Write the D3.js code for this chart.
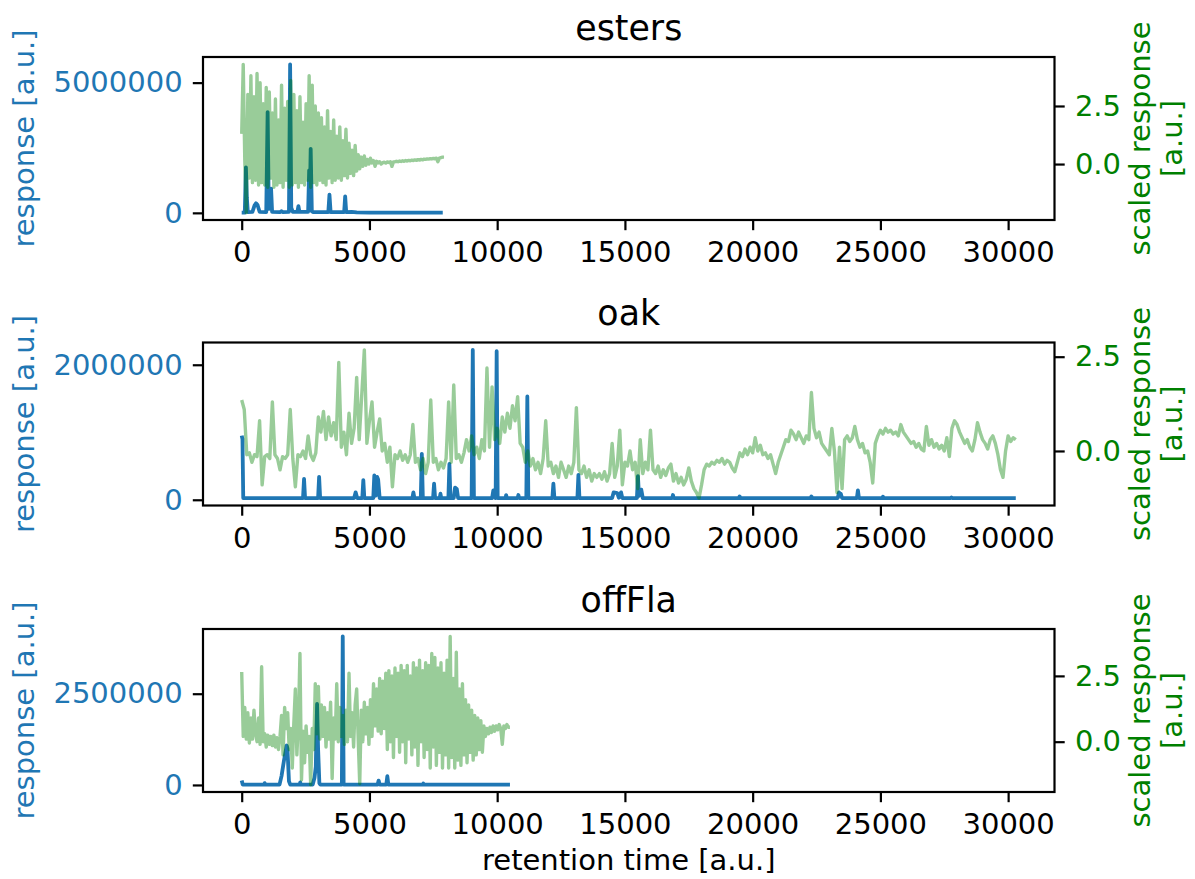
<!DOCTYPE html>
<html><head><meta charset="utf-8">
<script src="https://cdn.jsdelivr.net/npm/d3@7"></script>
<style>
html,body{margin:0;padding:0;background:#fff;}
svg{display:block;}
</style></head><body>
<svg id="chart" width="1195" height="879"></svg>
<script>
// ---------------- data ----------------
const panelTitles = ["esters", "oak", "offFla"];
const timeTicks = [0, 5000, 10000, 15000, 20000, 25000, 30000];
const scaledTicks = [0.0, 2.5];
const estersResponseTicks = [0, 5000000];
const oakResponseTicks = [0, 2000000];
const offFlaResponseTicks = [0, 2500000];

// raw response: [retention time, response]
const estersResponse = [[0,10000],[120,10000],[165,1750000],[200,600000],[240,30000],[420,40000],[500,280000],[560,370000],[620,300000],[700,40000],[960,30000],[1015,3870000],[1060,150000],[1110,200000],[1150,930000],[1190,40000],[1500,30000],[1560,60000],[1600,30000],[1850,40000],[1895,5700000],[1940,200000],[2000,40000],[2180,40000],[2220,260000],[2260,40000],[2600,40000],[2640,1630000],[2670,700000],[2700,2460000],[2745,60000],[2800,30000],[3390,30000],[3435,700000],[3480,30000],[4010,30000],[4050,630000],[4090,30000],[4300,40000],[4500,20000],[5000,10000],[7870,10000]];

const oakResponse = [[0,950000],[30,900000],[60,25000],[2400,25000],[2440,310000],[2480,25000],[2990,25000],[3030,340000],[3070,25000],[4400,25000],[4460,110000],[4520,25000],[4720,25000],[4760,290000],[4800,25000],[5150,25000],[5190,360000],[5250,60000],[5300,340000],[5340,300000],[5400,25000],[6680,25000],[6720,110000],[6760,25000],[7010,25000],[7050,680000],[7090,25000],[7490,25000],[7530,240000],[7570,25000],[7750,25000],[7780,90000],[7810,25000],[8090,25000],[8130,530000],[8170,25000],[8300,25000],[8350,180000],[8420,160000],[8470,25000],[9000,25000],[9045,2220000],[9090,25000],[9800,25000],[9850,140000],[9900,120000],[9940,25000],[9980,2200000],[10020,25000],[10330,25000],[10350,70000],[10380,25000],[10800,25000],[10830,70000],[10860,25000],[11140,25000],[11180,1530000],[11220,25000],[12160,25000],[12200,240000],[12240,25000],[13140,25000],[13180,370000],[13220,25000],[14500,25000],[14560,110000],[14700,100000],[14760,30000],[14850,110000],[14900,25000],[15470,25000],[15510,350000],[15550,60000],[15640,150000],[15700,25000],[16850,25000],[16880,70000],[16910,25000],[19460,25000],[19490,50000],[19520,25000],[22270,25000],[22300,50000],[22330,25000],[23330,25000],[23380,110000],[23420,60000],[23450,90000],[23500,25000],[24080,25000],[24120,140000],[24160,25000],[25070,25000],[25100,45000],[25130,25000],[27750,25000],[27780,35000],[27810,25000],[30300,25000]];

const offFlaResponse = [[0,120000],[40,10000],[880,10000],[900,50000],[920,10000],[1480,10000],[1560,250000],[1650,650000],[1760,1080000],[1790,1000000],[1850,100000],[1900,10000],[2270,10000],[2290,70000],[2310,10000],[2780,10000],[2850,200000],[2900,500000],[2950,2220000],[2990,1000000],[3040,50000],[3080,10000],[3920,10000],[3955,4070000],[3990,10000],[5320,10000],[5360,120000],[5400,10000],[5660,10000],[5700,240000],[5740,10000],[7090,10000],[7110,40000],[7130,10000],[10500,10000]];

// scaled response, sampled every *Step retention-time units starting at 0
const estersScaledStep = 60;
const estersScaled = [1.3,4.29,0.2,-2.09,3.0,-0.6,3.8,-0.8,2.9,-0.7,3.9,-0.9,3.5,-0.8,2.6,-0.9,3.3,-1.0,3.1,-0.6,2.2,-1.0,2.8,-0.9,1.9,-0.8,3.4,-1.0,2.4,-0.7,2.7,-1.0,3.6,-0.9,3.0,-0.8,2.3,-1.0,2.9,-0.8,1.8,-0.9,2.6,-0.7,3.8,-1.0,3.4,-0.8,2.5,-0.9,2.2,-0.7,2.0,-0.8,1.6,-0.9,2.3,-0.6,1.4,-0.8,1.9,-0.7,1.2,-0.6,1.6,-0.7,1.0,-0.5,1.5,-0.6,0.9,-0.4,0.6,-0.5,0.8,-0.3,0.4,-0.2,0.3,-0.1,0.35,-0.05,0.2,0.0,0.25,0.05,0.15,-0.1,0.12,0.05,0.1,0.0,0.06,0.08,0.04,0.09,0.07,0.1,-0.1,0.09,0.1,0.12,0.1,0.13,0.11,0.14,0.12,0.15,0.13,0.16,0.14,0.17,0.15,0.18,0.16,0.19,0.17,0.2,0.18,0.21,0.2,0.22,0.21,0.23,0.22,0.24,0.23,0.25,0.1,0.26,0.28,0.3,0.3];

const oakScaledStep = 100;
const oakScaled = [1.35,1.1,-0.1,-0.05,-0.3,-0.1,-0.15,0.8,-0.9,-0.15,-0.1,-0.2,1.3,
-0.1,-0.2,-0.5,-0.15,-0.2,-0.1,1.1,-0.2,-0.95,-0.1,-0.15,0.0,-0.2,0.4,-0.1,-0.25,-0.05,
0.9,0.5,1.05,0.3,0.9,0.4,0.75,0.3,2.35,0.1,0.5,-0.1,1.0,0.2,0.6,1.95,0.3,1.5,2.68,0.2,0.8,1.3,0.1,0.5,0.85,0.0,0.2,-0.3,0.1,-0.95,
-0.1,-0.2,0.0,-0.25,-0.1,-0.3,-0.1,0.7,-0.3,-0.2,-0.5,-0.2,-0.6,-0.3,1.35,-0.3,-0.2,-0.5,-0.3,-0.45,-0.2,1.3,-0.3,1.75,-0.2,-0.1,-0.3,-0.05,0.3,0.0,
0.4,-0.1,0.1,-0.2,0.3,0.0,2.2,0.1,1.7,0.3,0.6,0.2,0.9,0.5,1.0,0.6,1.2,0.8,1.44,0.2,0.1,-0.3,0.0,-0.4,-0.2,-0.5,-0.3,-0.6,-0.2,0.8,
-0.4,-0.3,-0.6,-0.4,-0.7,-0.3,-0.5,-0.7,-0.4,-0.6,-0.3,1.15,-0.5,-0.6,-0.4,-0.7,-0.5,-0.8,-0.6,-0.7,
-0.6,-0.75,-0.55,-0.8,-0.6,0.2,-0.7,-0.4,0.55,-0.9,-0.3,-0.4,0.0,-0.5,-0.3,-1.0,0.3,-0.6,-0.3,-0.5,0.55,-0.5,-0.6,-0.4,-0.7,-0.5,-0.65,-0.45,-0.35,-0.8,-0.6,-0.85,-0.7,-0.9,-0.75,-0.45,-0.8,-1.0,-1.1,-1.25,
-0.9,-0.5,-0.35,-0.4,-0.3,-0.35,-0.25,-0.3,-0.2,-0.35,-0.25,-0.3,-0.45,-0.55,-0.3,-0.05,-0.15,0.05,-0.1,0.1,-0.05,0.35,0.0,0.15,-0.1,-0.05,-0.2,-0.1,-0.35,-0.6,-0.3,-0.1,0.1,0.3,0.25,0.55,0.45,0.3,0.5,0.35,
0.2,0.4,0.3,1.55,0.6,0.35,0.5,0.2,0.1,0.0,-0.1,0.6,0.0,-1.1,0.1,-1.0,0.3,0.4,0.25,0.35,0.65,0.3,0.1,0.2,-0.05,0.0,-0.3,-0.85,0.2,0.4,0.55,0.45,0.6,0.5,0.55,0.45,0.5,0.4,0.7,0.5,
0.4,0.3,0.2,0.25,0.1,0.2,0.05,0.0,0.65,0.15,0.3,0.1,0.2,0.05,0.15,0.0,0.35,-0.15,0.6,0.8,0.7,0.5,0.35,0.2,0.3,0.1,0.0,0.3,0.75,0.5,0.3,0.2,0.05,0.3,0.4,0.2,-0.1,-0.5,-0.7,0.0,0.4,0.25,0.35,0.3];

const offFlaScaledStep = 60;
const offFlaScaled = [2.65,0.2,1.3,0.1,1.1,-0.05,0.9,0.1,1.2,0.3,0.0,0.9,-0.1,2.85,0.0,0.3,-0.2,0.25,-0.1,0.2,-0.15,0.25,-0.2,0.15,-0.3,0.2,1.0,-0.5,1.3,0.5,
1.1,-0.3,0.5,-1.0,0.7,2.0,-0.5,0.8,3.35,-1.45,0.4,-0.8,0.6,-0.4,0.2,-1.63,0.5,-0.3,2.2,0.3,2.1,0.1,1.4,0.2,1.3,-0.2,1.1,0.1,1.5,-1.4,
0.9,0.1,2.2,0.0,1.3,0.2,1.0,-0.1,1.2,0.0,2.6,0.2,1.1,-0.2,1.4,2.0,0.1,-1.6,1.2,0.0,1.5,0.3,1.3,-0.1,1.6,0.2,2.2,0.6,2.0,0.4,
2.4,0.3,2.3,0.5,2.6,-0.3,2.7,0.0,2.5,-0.6,2.8,0.2,2.6,-0.4,2.9,0.0,2.7,-0.8,2.9,0.1,2.5,-0.5,3.0,-0.2,2.8,-0.9,3.1,0.0,2.7,-0.6,
3.0,-0.3,2.9,-1.0,3.35,-0.2,3.2,-0.9,2.8,-0.4,3.0,-1.0,2.6,-0.5,3.1,-1.0,4.0,-0.6,2.4,-1.0,3.4,-0.7,2.0,-0.9,2.2,-0.5,1.6,-0.8,1.4,-0.4,
1.2,-0.7,1.0,-0.5,0.9,-0.3,0.8,-0.4,0.6,0.2,0.5,0.3,0.55,0.35,0.6,0.4,0.6,0.45,0.65,0.5,-0.1,0.6,0.5,0.65,0.55,0.55];

// ---------------- drawing ----------------
const svg = d3.select("#chart");
const FONT = "'DejaVu Sans', 'Liberation Sans', sans-serif";
const FS = 29, TFS = 34.8;
const BLUE = "#1f77b4", GREEN = "#008000";
const axL = 203, axR = 1054.5, axH = 163;
const tops = [57, 342.5, 629];
const TICK = 10.2, PAD = 10.2;

const panels = [
  {title: panelTitles[0], resp: estersResponse, scaled: estersScaled, step: estersScaledStep, ticks: estersResponseTicks},
  {title: panelTitles[1], resp: oakResponse, scaled: oakScaled, step: oakScaledStep, ticks: oakResponseTicks},
  {title: panelTitles[2], resp: offFlaResponse, scaled: offFlaScaled, step: offFlaScaledStep, ticks: offFlaResponseTicks}
];

const padDom = (a, b) => [a - (b - a) * 0.05, b + (b - a) * 0.05];
const tMax = d3.max(panels, p => Math.max(p.resp[p.resp.length-1][0], (p.scaled.length-1)*p.step));
const x = d3.scaleLinear().domain(padDom(0, tMax)).range([axL, axR]);

function styleAxis(g, color) {
  g.attr("font-family", FONT).attr("font-size", FS);
  g.select(".domain").remove();
  g.selectAll(".tick line").attr("stroke", "#000").attr("stroke-width", 2.2);
  g.selectAll(".tick text").attr("fill", color);
}

panels.forEach((p, i) => {
  const top = tops[i], bot = top + axH;
  const g = svg.append("g");
  const yL = d3.scaleLinear().domain(padDom(d3.min(p.resp, d => d[1]), d3.max(p.resp, d => d[1]))).range([bot, top]);
  const yR = d3.scaleLinear().domain(padDom(d3.min(p.scaled), d3.max(p.scaled))).range([bot, top]);
  const scaledPts = p.scaled.map((v, k) => [k * p.step, v]);

  const cid = "clip" + i;
  svg.append("clipPath").attr("id", cid).append("rect")
    .attr("x", axL).attr("y", top).attr("width", axR - axL).attr("height", axH);

  g.append("path").datum(p.resp)
    .attr("d", d3.line().x(d => x(d[0])).y(d => yL(d[1])))
    .attr("fill", "none").attr("stroke", BLUE).attr("stroke-width", 3.8)
    .attr("stroke-linejoin", "round").attr("clip-path", `url(#${cid})`);

  g.append("path").datum(scaledPts)
    .attr("d", d3.line().x(d => x(d[0])).y(d => yR(d[1])))
    .attr("fill", "none").attr("stroke", GREEN).attr("stroke-opacity", 0.4).attr("stroke-width", 3.4)
    .attr("stroke-linejoin", "round").attr("clip-path", `url(#${cid})`);

  g.append("rect").attr("x", axL).attr("y", top).attr("width", axR - axL).attr("height", axH)
    .attr("fill", "none").attr("stroke", "#000").attr("stroke-width", 2.2);

  // axes
  const gl = g.append("g").attr("transform", `translate(${axL},0)`)
    .call(d3.axisLeft(yL).tickValues(p.ticks).tickFormat(d3.format("d")).tickSize(TICK).tickPadding(PAD));
  styleAxis(gl, BLUE);
  const gr = g.append("g").attr("transform", `translate(${axR},0)`)
    .call(d3.axisRight(yR).tickValues(scaledTicks).tickFormat(d3.format(".1f")).tickSize(TICK).tickPadding(PAD));
  styleAxis(gr, GREEN);
  const gb = g.append("g").attr("transform", `translate(0,${bot})`)
    .call(d3.axisBottom(x).tickValues(timeTicks).tickFormat(d3.format("d")).tickSize(TICK).tickPadding(PAD));
  styleAxis(gb, "#000");
  gb.selectAll(".tick text").attr("dy", "0.75em");

  // title
  g.append("text").attr("x", (axL + axR) / 2).attr("y", top - 17.4)
    .attr("text-anchor", "middle").attr("font-family", FONT).attr("font-size", TFS)
    .attr("fill", "#000").text(p.title);

  // left label
  g.append("text").attr("transform", `translate(34,${top + axH / 2}) rotate(-90)`)
    .attr("text-anchor", "middle").attr("font-family", FONT).attr("font-size", FS)
    .attr("fill", BLUE).text("response [a.u.]");

  // right label (two lines)
  const rl = g.append("text").attr("transform", `translate(1150,${top + axH / 2}) rotate(-90)`)
    .attr("text-anchor", "middle").attr("font-family", FONT).attr("font-size", FS).attr("fill", GREEN);
  rl.append("tspan").attr("x", 0).attr("dy", 0).text("scaled response");
  rl.append("tspan").attr("x", 0).attr("dy", 32).text("[a.u.]");
});

svg.append("text").attr("x", (axL + axR) / 2).attr("y", 870)
  .attr("text-anchor", "middle").attr("font-family", FONT).attr("font-size", FS)
  .attr("fill", "#000").text("retention time [a.u.]");
</script>
</body></html>
